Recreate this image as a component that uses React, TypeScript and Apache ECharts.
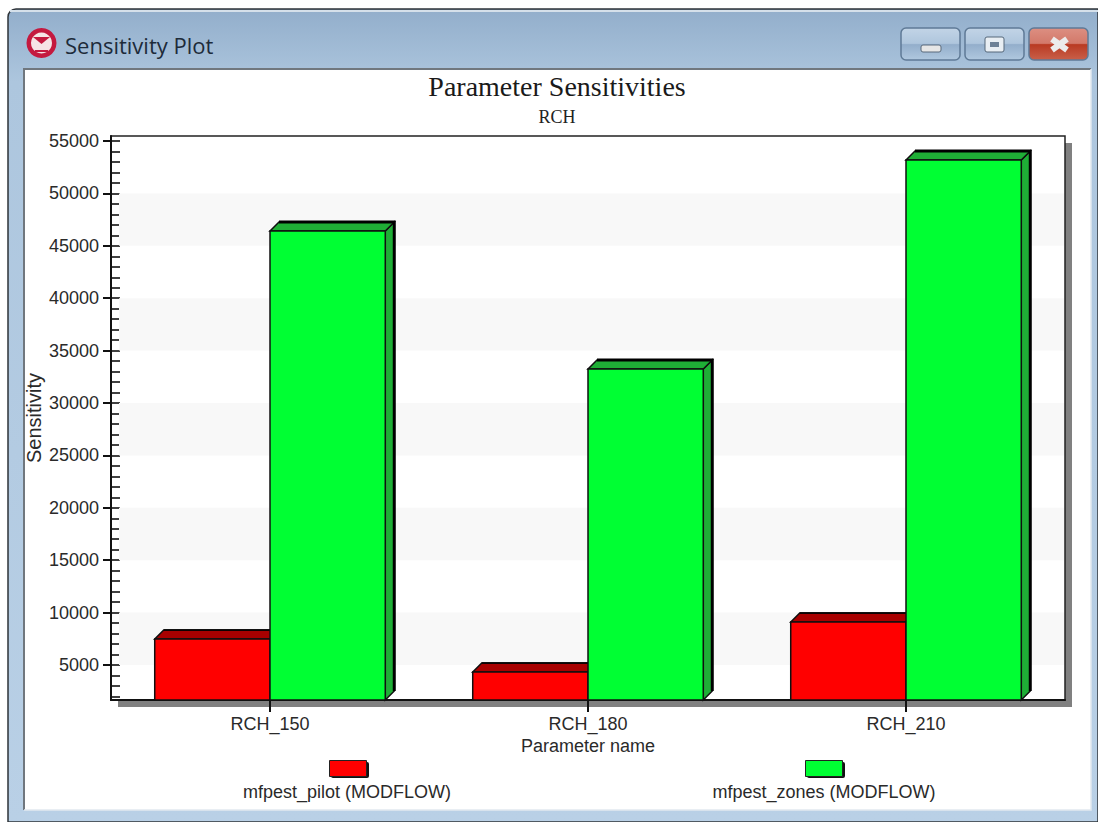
import React, { useEffect, useRef } from "react";
import * as echarts from "echarts";

const categories = ["RCH_150", "RCH_180", "RCH_210"];
const pilotName = "mfpest_pilot (MODFLOW)";
const zonesName = "mfpest_zones (MODFLOW)";
const pilotValues = [7480, 4330, 9100];
const zonesValues = [46410, 33240, 53190];
const majorTicks = [5000, 10000, 15000, 20000, 25000, 30000, 35000, 40000, 45000, 50000, 55000];
const minorTicks = [
  2000, 3000, 4000, 5000, 6000, 7000, 8000, 9000, 10000, 11000, 12000, 13000, 14000, 15000, 16000, 17000, 18000, 19000,
  20000, 21000, 22000, 23000, 24000, 25000, 26000, 27000, 28000, 29000, 30000, 31000, 32000, 33000, 34000, 35000, 36000,
  37000, 38000, 39000, 40000, 41000, 42000, 43000, 44000, 45000, 46000, 47000, 48000, 49000, 50000, 51000, 52000, 53000,
  54000, 55000,
];
const bands = [
  [5000, 10000],
  [15000, 20000],
  [25000, 30000],
  [35000, 40000],
  [45000, 50000],
];
const axisMin = 1660;
const axisMax = 55480;

const SANS = '"Liberation Sans", Arial, sans-serif';
const SERIF = '"Liberation Serif", serif';
const TEXT = "#2a2a2a";

function bar3d(offsetDir: number, front: string, shade: string, outline: number) {
  return (params: any, api: any) => {
    const catW = api.size([1, 0])[0];
    const w = catW * 0.3625;
    const top = api.coord([api.value(0), api.value(1)]);
    const base = api.coord([api.value(0), axisMin]);
    const x0 = offsetDir < 0 ? top[0] - w : top[0];
    const x1 = x0 + w;
    const yT = top[1];
    const yB = base[1];
    const d = 9;
    const thin = { stroke: "#101010", lineWidth: 1.5 };
    return {
      type: "group",
      children: [
        {
          type: "polygon",
          shape: { points: [[x1, yT], [x1 + d, yT - d], [x1 + d, yB - d], [x1, yB]] },
          style: { fill: shade, ...thin },
        },
        {
          type: "polygon",
          shape: { points: [[x0, yT], [x0 + d, yT - d], [x1 + d, yT - d], [x1, yT]] },
          style: { fill: shade, ...thin },
        },
        {
          type: "polyline",
          shape: { points: [[x0 + d, yT - d], [x1 + d, yT - d], [x1 + d, yB - d]] },
          style: { fill: "none", stroke: "#000", lineWidth: outline },
        },
        {
          type: "rect",
          shape: { x: x0, y: yT, width: w, height: yB - yT },
          style: { fill: front, ...thin },
        },
      ],
    };
  };
}

function chrome() {
  const btn = (x: number, c: any) => ({
    type: "rect",
    z: -8,
    shape: { x, y: 28, width: 59, height: 32, r: 5 },
    style: { fill: c, stroke: "#5f7a96", lineWidth: 1.5 },
  });
  const grad = (stops: [number, string][]) =>
    new echarts.graphic.LinearGradient(0, 0, 0, 1, stops.map(([offset, color]) => ({ offset, color })));
  const blue = grad([[0, "#c2d4e6"], [0.48, "#afc6dd"], [0.52, "#93aecb"], [1, "#b0c8df"]]);
  const red = grad([[0, "#dc8f82"], [0.48, "#d3796a"], [0.52, "#b93a22"], [1, "#c9604a"]]);
  return [
    { type: "rect", z: -10, shape: { x: 8, y: 9, width: 1090, height: 813, r: [8, 0, 0, 0] },
      style: { fill: grad([[0, "#92aecb"], [0.09, "#adc6de"], [1, "#b9d0e6"]]), stroke: "#2e3338", lineWidth: 1.5 } },
    { type: "rect", z: -9, shape: { x: 10, y: 10, width: 1088, height: 2 }, style: { fill: "#d5e0ea" } },
    { type: "rect", z: -9, shape: { x: 24, y: 69, width: 1067, height: 741 }, style: { fill: "#ffffff" } },
    { type: "polyline", z: -8, shape: { points: [[24, 810], [24, 69], [1091, 69]] },
      style: { fill: "none", stroke: "#70777e", lineWidth: 2 } },
    { type: "polyline", z: -8, shape: { points: [[24, 810], [1091, 810], [1091, 69]] },
      style: { fill: "none", stroke: "#e2e9f0", lineWidth: 1.5 } },
    { type: "circle", z: -8, shape: { cx: 41.5, cy: 43, r: 15 }, style: { fill: "#c4193f" } },
    { type: "circle", z: -7, shape: { cx: 41.5, cy: 43, r: 10.5 }, style: { fill: "#f6e4e6" } },
    { type: "polygon", z: -6, shape: { points: [[33, 37], [50, 37], [41.5, 44]] }, style: { fill: "#c4193f" } },
    { type: "rect", z: -6, shape: { x: 35, y: 50, width: 13, height: 2 }, style: { fill: "#c4193f" } },
    { type: "text", z: -7, x: 65, y: 45,
      style: { text: "Sensitivity Plot", font: '22px "Open Sans", sans-serif', fill: "#1d2b3a", verticalAlign: "middle" } },
    btn(901, blue),
    btn(965, blue),
    btn(1029, red),
    { type: "rect", z: -7, shape: { x: 921, y: 45, width: 20, height: 7, r: 2 }, style: { fill: "#e6e6e6", stroke: "#5a6b7c", lineWidth: 1 } },
    { type: "rect", z: -7, shape: { x: 985, y: 37, width: 19, height: 15, r: 2 }, style: { fill: "#e8eef3", stroke: "#56687a", lineWidth: 1 } },
    { type: "rect", z: -6, shape: { x: 990, y: 42, width: 9, height: 5 }, style: { fill: "#6d8196" } },
    { type: "line", z: -7, shape: { x1: 1052, y1: 39, x2: 1067, y2: 50 }, style: { stroke: "#ececec", lineWidth: 6 } },
    { type: "line", z: -7, shape: { x1: 1067, y1: 39, x2: 1052, y2: 50 }, style: { stroke: "#ececec", lineWidth: 6 } },
    // plot drop shadow
    { type: "rect", z: -5, shape: { x: 118, y: 143, width: 954, height: 564 }, style: { fill: "#808080" } },
    // legend
    { type: "rect", z: 5, shape: { x: 331, y: 762, width: 38, height: 16, r: 2 }, style: { fill: "#111" } },
    { type: "rect", z: 6, shape: { x: 329.5, y: 760.5, width: 37, height: 16 }, style: { fill: "#ff0000", stroke: "#222", lineWidth: 1 } },
    { type: "text", z: 6, x: 347, y: 792,
      style: { text: pilotName, font: `18px ${SANS}`, fill: TEXT, align: "center", verticalAlign: "middle" } },
    { type: "rect", z: 5, shape: { x: 807, y: 762, width: 38, height: 16, r: 2 }, style: { fill: "#111" } },
    { type: "rect", z: 6, shape: { x: 805.5, y: 760.5, width: 37, height: 16 }, style: { fill: "#00ff33", stroke: "#222", lineWidth: 1 } },
    { type: "text", z: 6, x: 824, y: 792,
      style: { text: zonesName, font: `18px ${SANS}`, fill: TEXT, align: "center", verticalAlign: "middle" } },
  ];
}

export default function App() {
  const ref = useRef<HTMLDivElement>(null);
  useEffect(() => {
    const chart = echarts.init(ref.current!, undefined, { renderer: "svg" });
    chart.setOption({
      animation: false,
      backgroundColor: "#ffffff",
      title: {
        text: "Parameter Sensitivities",
        subtext: "RCH",
        left: 557,
        top: 72,
        textAlign: "center",
        itemGap: 8,
        padding: 0,
        textStyle: { fontFamily: SERIF, fontSize: 28, fontWeight: "normal", color: "#1a1a1a" },
        subtextStyle: { fontFamily: SERIF, fontSize: 18, color: "#222" },
      },
      graphic: { elements: chrome() },
      grid: {
        left: 111,
        top: 136,
        width: 954,
        height: 564,
        show: true,
        backgroundColor: "#ffffff",
        borderColor: "#222",
        borderWidth: 1.5,
      },
      xAxis: {
        type: "category",
        data: categories,
        name: "Parameter name",
        nameLocation: "middle",
        nameGap: 37,
        nameMoveOverlap: false,
        nameTextStyle: { fontFamily: SANS, fontSize: 18, color: TEXT },
        axisLine: { lineStyle: { color: "#111", width: 2 } },
        axisTick: { show: true, alignWithLabel: true, length: 12, lineStyle: { color: "#111", width: 2 } },
        axisLabel: { fontFamily: SANS, fontSize: 18, color: TEXT, margin: 15 },
      },
      yAxis: [
        {
          type: "value",
          min: axisMin,
          max: axisMax,
          name: "Sensitivity",
          nameLocation: "middle",
          nameGap: 67,
          nameMoveOverlap: false,
          nameTextStyle: { fontFamily: SANS, fontSize: 20, color: TEXT },
          splitLine: { show: false },
          axisLine: { show: true, lineStyle: { color: "#111", width: 2 } },
          axisTick: { show: true, customValues: majorTicks, length: 8, lineStyle: { color: "#111", width: 2 } },
          axisLabel: {
            customValues: majorTicks,
            formatter: (v: number) => String(v),
            fontFamily: SANS,
            fontSize: 18,
            color: TEXT,
            margin: 12,
          },
        },
        {
          type: "value",
          min: axisMin,
          max: axisMax,
          position: "left",
          splitLine: { show: false },
          axisLine: { show: false },
          axisLabel: { show: false },
          axisTick: { show: true, inside: true, customValues: minorTicks, length: 9, lineStyle: { color: "#111", width: 1.6 } },
        },
      ],
      series: [
        {
          type: "custom",
          name: "bands",
          silent: true,
          z: 1,
          clip: true,
          data: bands,
          encode: { y: [0, 1] },
          renderItem: (p: any, api: any) => {
            const a = api.coord([0, api.value(0)]);
            const b = api.coord([0, api.value(1)]);
            const cs = p.coordSys;
            return {
              type: "rect",
              shape: { x: cs.x + 8, y: b[1], width: cs.width - 9, height: a[1] - b[1] },
              style: { fill: "#f8f8f8" },
            };
          },
        },
        {
          type: "custom",
          name: pilotName,
          z: 3,
          clip: false,
          data: categories.map((_, i) => [i, pilotValues[i]]),
          encode: { x: 0, y: 1 },
          renderItem: bar3d(-1, "#ff0000", "#a80000", 1.5),
        },
        {
          type: "custom",
          name: zonesName,
          z: 4,
          clip: false,
          data: categories.map((_, i) => [i, zonesValues[i]]),
          encode: { x: 0, y: 1 },
          renderItem: bar3d(1, "#00ff33", "#1fae36", 3),
        },
      ],
    });
    return () => chart.dispose();
  }, []);
  return <div ref={ref} style={{ position: "absolute", left: 0, top: 0, width: 1098, height: 822 }} />;
}
